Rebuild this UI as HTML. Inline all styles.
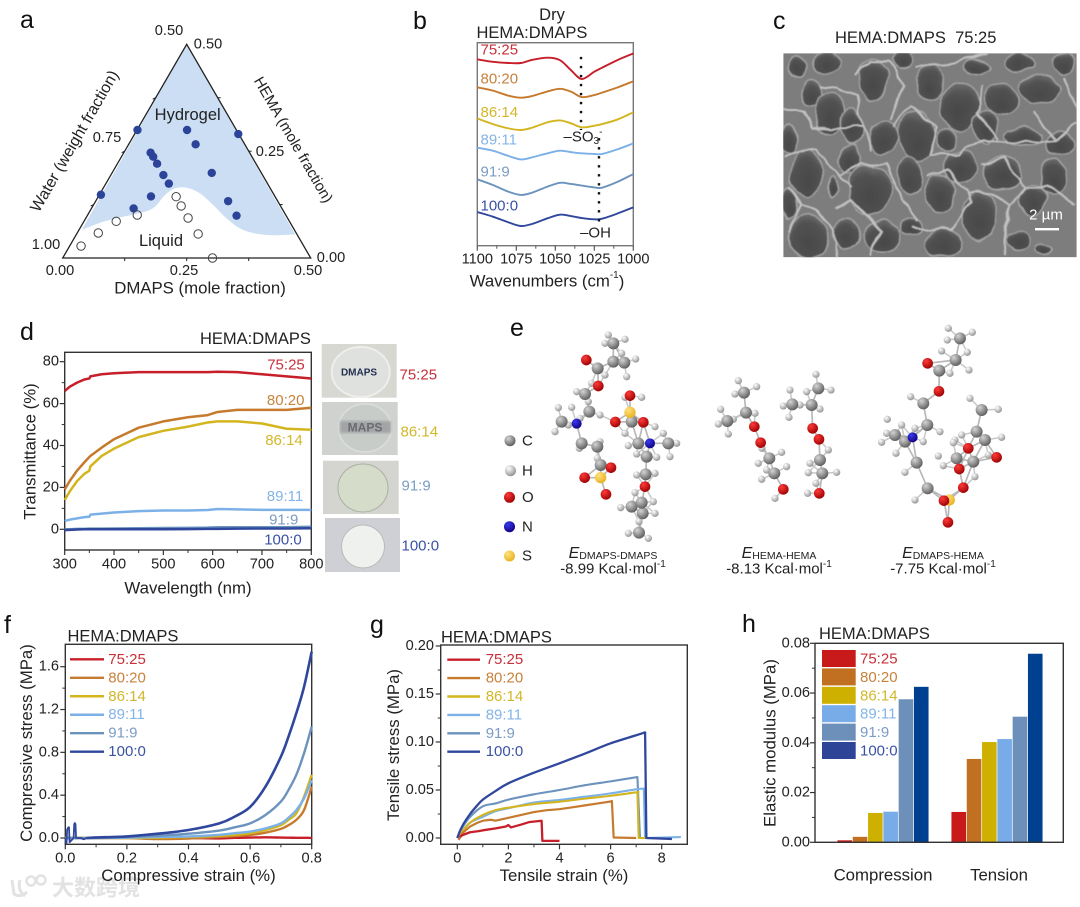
<!DOCTYPE html>
<html lang="en">
<head>
<meta charset="utf-8">
<title>HEMA:DMAPS hydrogel characterization figure</title>
<style>
html,body{margin:0;padding:0;background:#fff;width:1080px;height:907px;overflow:hidden}
svg{display:block;filter:blur(.35px)}
text{font-family:"Liberation Sans","Noto Sans CJK SC",sans-serif;fill:#222;dominant-baseline:central}
.letter{font-size:25px;fill:#111}
.title{font-size:16.5px}
.tick{font-size:14.6px}
.big{font-size:16.8px}
.lab{font-size:15px}
.wm{font-family:"Liberation Sans","Noto Sans CJK SC",sans-serif;font-size:22px;font-weight:bold}
</style>
</head>
<body>
<svg id="fig" xmlns="http://www.w3.org/2000/svg" width="1080" height="907" viewBox="0 0 1080 907">
<defs>
<radialGradient id="gC" cx="35%" cy="30%" r="75%"><stop offset="0" stop-color="#d4d4d4"/><stop offset="1" stop-color="#5a5a5a"/></radialGradient>
<radialGradient id="gH" cx="35%" cy="30%" r="75%"><stop offset="0" stop-color="#ffffff"/><stop offset="1" stop-color="#8f8f8f"/></radialGradient>
<radialGradient id="gO" cx="35%" cy="30%" r="75%"><stop offset="0" stop-color="#ff3a3a"/><stop offset="1" stop-color="#9c0000"/></radialGradient>
<radialGradient id="gN" cx="35%" cy="30%" r="75%"><stop offset="0" stop-color="#3a3af0"/><stop offset="1" stop-color="#100080"/></radialGradient>
<radialGradient id="gS" cx="35%" cy="30%" r="75%"><stop offset="0" stop-color="#ffe27a"/><stop offset="1" stop-color="#e8b020"/></radialGradient>
<radialGradient id="pore" cx="50%" cy="65%" r="70%"><stop offset="0" stop-color="#484848"/><stop offset=".65" stop-color="#525252"/><stop offset="1" stop-color="#787878"/></radialGradient>
<filter id="organic" x="-5%" y="-5%" width="110%" height="110%"><feTurbulence type="fractalNoise" baseFrequency="0.014" numOctaves="2" seed="7" result="n"/><feDisplacementMap in="SourceGraphic" in2="n" scale="30" xChannelSelector="R" yChannelSelector="G"/><feGaussianBlur stdDeviation="1.8"/></filter>
<filter id="soft"><feGaussianBlur stdDeviation="1.4"/></filter>
<clipPath id="semClip"><rect x="783.3" y="53.3" width="293.4" height="204"/></clipPath>
</defs>

<g id="watermark">
  <path d="M12 880 L14 894 Q20 898 27 892 M20 880 Q17 890 25 896" fill="none" stroke="#e2e2e2" stroke-width="3"/>
  <circle cx="31" cy="881" r="4.5" fill="none" stroke="#e2e2e2" stroke-width="2.5"/>
  <circle cx="41" cy="880" r="4.5" fill="none" stroke="#e2e2e2" stroke-width="2.5"/>
  <text class="wm" style="fill:#e2e2e2" x="52" y="888">大数跨境</text>
</g>

<text class="letter" x="20" y="20">a</text>
<text class="letter" x="413" y="21">b</text>
<text class="letter" x="773" y="21">c</text>
<text class="letter" x="20" y="332">d</text>
<text class="letter" x="510" y="328">e</text>
<text class="letter" x="4" y="625">f</text>
<text class="letter" x="370" y="625">g</text>
<text class="letter" x="742" y="624">h</text>

<!-- Panel a -->
<g id="panelA">
  <text class="tick" x="169" y="31" text-anchor="middle">0.50</text>
  <text class="tick" x="208" y="44.5" text-anchor="middle">0.50</text>
  <text class="tick" x="107" y="138" text-anchor="middle">0.75</text>
  <text class="tick" x="270" y="152" text-anchor="middle">0.25</text>
  <text class="tick" x="46" y="245" text-anchor="middle">1.00</text>
  <text class="tick" x="331" y="258" text-anchor="middle">0.00</text>
  <text class="tick" x="60" y="271" text-anchor="middle">0.00</text>
  <text class="tick" x="184" y="271" text-anchor="middle">0.25</text>
  <text class="tick" x="308" y="271" text-anchor="middle">0.50</text>
  <text class="big" x="200" y="288" text-anchor="middle">DMAPS (mole fraction)</text>
  <text transform="translate(75 141.5) rotate(-60)" text-anchor="middle" style="font-size:16px">Water (weight fraction)</text>
  <text transform="translate(293 140) rotate(60)" text-anchor="middle" style="font-size:15px">HEMA (mole fraction)</text>
</g>

<!-- Panel b -->
<g id="panelB">
  <text class="title" x="552" y="15" text-anchor="middle">Dry</text>
  <text class="title" x="476.5" y="33">HEMA:DMAPS</text>
  <text class="big" x="547" y="281" text-anchor="middle">Wavenumbers (cm<tspan font-size="10" dy="-6">-1</tspan><tspan dy="6">)</tspan></text>
  <text class="lab" x="583" y="137" text-anchor="middle">–SO<tspan font-size="10" dy="4">3</tspan><tspan font-size="10" dy="-9">-</tspan></text>
  <text class="lab" x="595.5" y="233" text-anchor="middle">–OH</text>
</g>

<!-- Panel c -->
<text class="title" x="835" y="38" style="white-space:pre">HEMA:DMAPS  75:25</text>
<g id="sem" clip-path="url(#semClip)">
  <rect x="783.3" y="53.3" width="293.4" height="204" fill="#7d7d7d"/>
  <g id="semPores" transform="translate(770 30) scale(.3333)" filter="url(#organic)"></g>
</g>
<text x="1046" y="215" text-anchor="middle" style="font-size:15px;fill:#fff">2 µm</text>
<rect x="1035" y="228" width="24" height="2.4" fill="#fff"/>

<!-- Panel d -->
<g id="panelD">
  <text class="title" x="200" y="339">HEMA:DMAPS</text>
  <text class="big" transform="translate(30 451.5) rotate(-90)" text-anchor="middle">Transmittance (%)</text>
  <text class="big" x="188" y="588" text-anchor="middle">Wavelength (nm)</text>
</g>
<g id="photos">
  <rect x="321.7" y="344" width="75" height="53.7" fill="#d8d8d2"/>
  <ellipse cx="360.7" cy="372" rx="29" ry="25" fill="#dfe1df" stroke="#eeeeec" stroke-width="2"/>
  <text x="359" y="373" text-anchor="middle" style="font-size:10px;font-weight:bold;fill:#22304e">DMAPS</text>
  <rect x="322" y="402" width="75.7" height="53" fill="#d0d2cf"/>
  <ellipse cx="365" cy="428" rx="26.5" ry="24" fill="#c8ccc9" stroke="#dcdedc" stroke-width="1.5"/>
  <rect x="340" y="421" width="51" height="12" fill="#a2a4a6" filter="url(#soft)"/>
  <text x="365" y="427.5" text-anchor="middle" style="font-size:12px;font-weight:bold;fill:#6a6c70">MAPS</text>
  <rect x="323" y="460.7" width="75.7" height="53.3" fill="#d4d4d0"/>
  <ellipse cx="363" cy="488" rx="25" ry="24" fill="#d6dcca" stroke="#aab0a4" stroke-width="1"/>
  <rect x="325" y="518" width="75" height="54" fill="#cfd0d6"/>
  <circle cx="363" cy="546.5" r="21.5" fill="#eff1ef" stroke="#b8bab8" stroke-width="1"/>
  <text class="lab" x="399.5" y="375" style="fill:#c8303a">75:25</text>
  <text class="lab" x="400.5" y="432" style="fill:#d3b72a">86:14</text>
  <text class="lab" x="401.5" y="486" style="fill:#7b9cc4">91:9</text>
  <text class="lab" x="401.5" y="546" style="fill:#3a52a4">100:0</text>
</g>

<!-- Panel e -->
<g id="molecules" transform="translate(490 320) scale(.3333)"></g>
<g id="atomLegend">
  <circle cx="510" cy="440.7" r="5.5" fill="url(#gC)"/>
  <text class="lab" x="522" y="441">C</text>
  <circle cx="510.5" cy="470.7" r="5.5" fill="url(#gH)"/>
  <text class="lab" x="522" y="471">H</text>
  <circle cx="509.5" cy="497.3" r="5.5" fill="url(#gO)"/>
  <text class="lab" x="522" y="497.5">O</text>
  <circle cx="509.5" cy="526.7" r="5.5" fill="url(#gN)"/>
  <text class="lab" x="522" y="527">N</text>
  <circle cx="509.5" cy="556" r="5.5" fill="url(#gS)"/>
  <text class="lab" x="522" y="556">S</text>
  <text x="613" y="553" text-anchor="middle" style="font-size:16px"><tspan font-style="italic">E</tspan><tspan font-size="10.5" dy="3">DMAPS-DMAPS</tspan></text>
  <text class="lab" x="613" y="569" text-anchor="middle">-8.99 Kcal·mol<tspan font-size="10" dy="-5">-1</tspan></text>
  <text x="779" y="553" text-anchor="middle" style="font-size:16px"><tspan font-style="italic">E</tspan><tspan font-size="10.5" dy="3">HEMA-HEMA</tspan></text>
  <text class="lab" x="779" y="569" text-anchor="middle">-8.13 Kcal·mol<tspan font-size="10" dy="-5">-1</tspan></text>
  <text x="943" y="553" text-anchor="middle" style="font-size:16px"><tspan font-style="italic">E</tspan><tspan font-size="10.5" dy="3">DMAPS-HEMA</tspan></text>
  <text class="lab" x="943" y="569" text-anchor="middle">-7.75 Kcal·mol<tspan font-size="10" dy="-5">-1</tspan></text>
</g>

<!-- Panel f -->
<g id="panelF">
  <text class="title" x="67.5" y="636.5">HEMA:DMAPS</text>
  <text class="big" transform="translate(26.5 743) rotate(-90)" text-anchor="middle">Compressive stress (MPa)</text>
  <text class="big" x="188.5" y="875.5" text-anchor="middle">Compressive strain (%)</text>
</g>

<!-- Panel g -->
<g id="panelG">
  <text class="title" x="441" y="637.5">HEMA:DMAPS</text>
  <text class="big" transform="translate(393.5 745) rotate(-90)" text-anchor="middle">Tensile stress (MPa)</text>
  <text class="big" x="564" y="875.5" text-anchor="middle">Tensile strain (%)</text>
</g>

<!-- Panel h -->
<g id="panelH">
  <text class="title" x="819" y="634">HEMA:DMAPS</text>
  <text class="big" transform="translate(770 743) rotate(-90)" text-anchor="middle">Elastic modulus (MPa)</text>
</g>
</svg>

<script>
// ---------- shared data ----------
const ratioLabels = ['75:25', '80:20', '86:14', '89:11', '91:9', '100:0'];
const lineColors = ['#c71f2a', '#c67a2e', '#d3b51f', '#7cb1e8', '#6b93be', '#2f479c'];
const textColors = ['#c8303a', '#c8823c', '#d3b72a', '#84b4e8', '#7b9cc4', '#3a52a4'];

// ---------- panel a: ternary ----------
const hydrogelDmaps = [.001, .101, .209, .135, .054, .064, .080, .106, .201, .127, .003, .106, .267, .085, .301];
const hydrogelHema = [.2995, .2995, .290, .266, .2464, .237, .2206, .194, .199, .174, .148, .144, .133, .116, .099];
const liquidDmaps = [.023, .0425, .065, .100, .157, .178, .206, .245, .302];
const liquidHema = [.028, .0585, .0858, .1006, .1434, .1217, .0936, .0562, 0];
const boundaryDmaps = [.441, .3845, .3315, .284, .2415, .201, .168, .145, .1325, .126, .109, .0738, .0395, .0056];
const boundaryHema = [.0554, .0538, .0655, .0928, .124, .1513, .1645, .163, .1474, .12, .107, .0966, .085, .0655];
const ternaryTicks = [0.125, 0.25, 0.375];

// ---------- panel b: FTIR ----------
const wavenumbers = [1100, 1090, 1080, 1072, 1065, 1055, 1047, 1040, 1033, 1025, 1020, 1010, 1000];
const ftir7525 = [91.8, 90.6, 90, 90, 91.5, 92.6, 91.4, 86.5, 82.1, 85.7, 87.7, 91.5, 94.7];
const ftir8020 = [78, 76.4, 73.9, 72.9, 73.7, 76, 77.3, 75.9, 73.2, 74.2, 75.4, 78, 81];
const ftir8614 = [62.7, 59.9, 57.8, 57, 58.1, 60.8, 61.7, 60.3, 58.3, 59.1, 59.9, 62.2, 65.7];
const ftir8911 = [48.3, 46.8, 44.2, 42.5, 43.5, 45.5, 46.8, 46.1, 45.5, 45.2, 45.2, 47.5, 50.4];
const ftir919 = [32.7, 29.9, 26.6, 25, 26.1, 29.1, 31, 30.4, 29.6, 28.7, 28.6, 31.5, 35.3];
const ftir1000 = [16.6, 14.3, 11.5, 9.7, 10.7, 13.5, 15.3, 14.6, 13.6, 13, 13.3, 15.9, 18.9];
const ftirXTicks = [1100, 1075, 1050, 1025, 1000];
const ftirXMinor = [1087.5, 1062.5, 1037.5, 1012.5];
const so3Wavenumber = 1033.5;
const ohWavenumber = 1022;

// ---------- panel d: transmittance ----------
const wavelengths = [300, 310, 325, 340, 350, 352, 375, 400, 450, 500, 550, 590, 610, 650, 700, 750, 800];
const trans7525 = [66, 68, 70, 71.5, 72, 73, 74, 74.5, 75, 75, 75, 75, 75.2, 75, 74, 73, 72];
const trans8020 = [19, 23, 28, 32, 34.5, 35, 39, 43, 48.5, 51.5, 53.5, 54.5, 56, 57, 57, 57, 58];
const trans8614 = [14, 18, 23, 26.5, 28, 30, 35, 38.5, 44, 47, 49, 51, 51.5, 51.5, 50.5, 48, 47.5];
const trans8911 = [4, 4.6, 5.2, 5.8, 6, 7, 7.5, 8, 8.7, 9, 9, 9.2, 9.7, 9.5, 9.3, 9.3, 9.3];
const trans919 = [0, 0, .2, .2, .3, .3, .3, .4, .5, .6, .7, .8, 1, 1, 1, 1, 1.2];
const trans1000 = [-.4, -.3, -.1, 0, 0, 0, 0, 0, 0, 0, .1, .2, .2, .3, .4, .4, .5];
const transXTicks = [300, 400, 500, 600, 700, 800];
const transXMinor = [350, 450, 550, 650, 750];
const transYTicks = [0, 20, 40, 60, 80];
const transYMinor = [10, 30, 50, 70];

// ---------- panel f: compression ----------
const compStrain = [.1, .2, .3, .4, .5, .55, .6, .65, .7, .725, .75, .775, .8];
const comp7525 = [0, .001, .002, 0, -.004, .002, .004, .006, .004, .003, .002, .002, .001];
const comp8020 = [0, 0, -.01, -.005, .01, .018, .028, .05, .085, .12, .17, .26, .48];
const comp8614 = [0, 0, .003, .01, .02, .03, .045, .075, .12, .17, .23, .385, .59];
const comp8911 = [0, .003, .01, .015, .03, .045, .06, .09, .137, .19, .26, .37, .54];
const comp919 = [0, .01, .02, .04, .07, .1, .137, .215, .34, .45, .59, .79, 1.04];
const comp1000 = [.005, .015, .04, .075, .137, .2, .29, .48, .76, .95, 1.165, 1.41, 1.74];
const spikeStrain = [0, .004, .006, .01, .012, .014, .027, .029, .031, .033, .035, .05, .06, .07];
const spikeStress = [0, -.05, .08, .1, .1, -.04, 0, .13, .14, .13, 0, 0, -.012, 0];
const compXTicks = [0, .2, .4, .6, .8];
const compXMinor = [.1, .3, .5, .7];
const compYTicks = [0, .4, .8, 1.2, 1.6];
const compYMinor = [.2, .6, 1, 1.4];

// ---------- panel g: tension ----------
const tensStrain7525 = [.1, .2, .5, .8, 1, 1.5, 1.9, 2, 2.1, 2.5, 2.8, 3.3, 3.33, 4];
const tensStress7525 = [.001, .003, .006, .007, .008, .01, .012, .0135, .011, .014, .0165, .018, -.003, -.003];
const tensStrain8020 = [.05, .2, .5, .8, 1, 1.3, 1.5, 2, 2.5, 3, 3.5, 4, 4.5, 5, 5.5, 6, 6.05, 6.12, 7];
const tensStress8020 = [-.002, .005, .012, .016, .018, .019, .018, .021, .024, .027, .029, .03, .032, .034, .036, .038, .0385, .0005, 0];
const tensStrain8614 = [0, .2, .5, 1, 1.5, 2, 3, 4, 5, 6, 7, 7.05, 7.1, 7.4];
const tensStress8614 = [0, .007, .016, .024, .029, .0316, .0354, .0378, .041, .044, .0476, .0478, 0, 0];
const tensStrain8911 = [0, .2, .5, 1, 1.5, 2, 3, 4, 5, 6, 7, 7.3, 7.35, 8.75];
const tensStress8911 = [0, .007, .016, .022, .028, .031, .037, .0396, .043, .0465, .0507, .0515, 0, .001];
const tensStrain919 = [0, .2, .5, 1, 1.5, 2, 3, 4, 5, 6, 7.05, 7.15, 7.6];
const tensStress919 = [0, .011, .022, .033, .036, .04, .0455, .05, .055, .059, .0635, 0, 0];
const tensStrain1000 = [0, .1, .25, .5, .75, 1, 1.5, 2, 3, 4, 5, 6, 7, 7.35, 7.4, 8.4];
const tensStress1000 = [0, .007, .015, .025, .033, .04, .049, .057, .068, .0778, .088, .0986, .107, .11, 0, -.001];
const tensXTicks = [0, 2, 4, 6, 8];
const tensXMinor = [1, 3, 5, 7];
const tensYTicks = [0, .05, .1, .15, .2];
const tensYMinor = [.025, .075, .125, .175];

// ---------- panel h: bars ----------
const modulusCategories = ['Compression', 'Tension'];
const modulusCompression = [.0008, .0022, .0118, .0123, .0575, .0625];
const modulusTension = [.0122, .0335, .0403, .0415, .0505, .0758];
const modulusYTicks = [0, .02, .04, .06, .08];
const modulusYMinor = [.01, .03, .05, .07];
const barColors = ['#c81a1a', '#c07020', '#ceb000', '#78ace8', '#6c90ba', '#004090'];

// ---------- helpers ----------
const NS = 'http://www.w3.org/2000/svg';
function make(tag, attrs, parent) {
  const el = document.createElementNS(NS, tag);
  for (const k in attrs) el.setAttribute(k, attrs[k]);
  parent.appendChild(el);
  return el;
}
function linear(d0, d1, r0, r1) {
  return v => r0 + (v - d0) / (d1 - d0) * (r1 - r0);
}
function polyPath(pts) {
  return 'M' + pts.map(p => p[0].toFixed(2) + ' ' + p[1].toFixed(2)).join('L');
}
function smoothPath(pts) {
  let d = 'M' + pts[0][0].toFixed(2) + ' ' + pts[0][1].toFixed(2);
  for (let i = 0; i < pts.length - 1; i++) {
    const p0 = pts[Math.max(0, i - 1)], p1 = pts[i], p2 = pts[i + 1], p3 = pts[Math.min(pts.length - 1, i + 2)];
    d += 'C' + (p1[0] + (p2[0] - p0[0]) / 6).toFixed(2) + ' ' + (p1[1] + (p2[1] - p0[1]) / 6).toFixed(2) + ' ' +
      (p2[0] - (p3[0] - p1[0]) / 6).toFixed(2) + ' ' + (p2[1] - (p3[1] - p1[1]) / 6).toFixed(2) + ' ' +
      p2[0].toFixed(2) + ' ' + p2[1].toFixed(2);
  }
  return d;
}
function drawFrame(g, box, color, w) {
  const r = make('rect', { x: box.l, y: box.t, width: box.r - box.l, height: box.b - box.t, fill: 'none', stroke: color, 'stroke-width': w }, g);
  
  
}
function drawXAxis(g, scale, box, ticks, minor, digits, labelY, color) {
  ticks.forEach(v => {
    const t = make('line', { x1: scale(v), x2: scale(v), y1: box.b, y2: box.b + 5, stroke: color, 'stroke-width': 1.2 }, g);
    
    
    const s = make('text', { x: scale(v), y: labelY, 'text-anchor': 'middle', class: 'tick' }, g);
    s.textContent = v.toFixed(digits);
    
    
  });
  minor.forEach(v => {
    const t = make('line', { x1: scale(v), x2: scale(v), y1: box.b, y2: box.b + 3, stroke: color, 'stroke-width': 1 }, g);
    
    
  });
}
function drawYAxis(g, scale, box, ticks, minor, digits, labelX) {
  ticks.forEach(v => {
    const t = make('line', { x1: box.l - 5, x2: box.l, y1: scale(v), y2: scale(v), stroke: '#333', 'stroke-width': 1.2 }, g);
    
    
    const s = make('text', { x: labelX, y: scale(v), 'text-anchor': 'end', class: 'tick' }, g);
    s.textContent = v.toFixed(digits);
    
    
  });
  minor.forEach(v => {
    const t = make('line', { x1: box.l - 3, x2: box.l, y1: scale(v), y2: scale(v), stroke: '#333', 'stroke-width': 1 }, g);
    
    
  });
}
function drawCurve(g, xs, ys, xScale, yScale, color, width, smooth) {
  const pts = xs.map((x, i) => [xScale(x), yScale(ys[i])]);
  const p = make('path', { d: smooth ? smoothPath(pts) : polyPath(pts), fill: 'none', stroke: color, 'stroke-width': width, 'stroke-linejoin': 'round' }, g);
  
  
  return p;
}
function drawBreakCurve(g, xs, ys, xScale, yScale, color, width) {
  const pts = xs.map((x, i) => [xScale(x), yScale(ys[i])]);
  const n = pts.length;
  const d = smoothPath(pts.slice(0, n - 2)) + 'L' + pts[n - 2][0].toFixed(2) + ' ' + pts[n - 2][1].toFixed(2) + 'L' + pts[n - 1][0].toFixed(2) + ' ' + pts[n - 1][1].toFixed(2);
  const p = make('path', { d: d, fill: 'none', stroke: color, 'stroke-width': width, 'stroke-linejoin': 'round' }, g);
  
  
  return p;
}
function drawLineLegend(g, x1, x2, textX, ys) {
  ratioLabels.forEach((lab, i) => {
    const l = make('line', { x1: x1, x2: x2, y1: ys(i), y2: ys(i), stroke: lineColors[i], 'stroke-width': 2.4 }, g);
    
    
    const t = make('text', { x: textX, y: ys(i), class: 'lab', style: 'fill:' + textColors[i] }, g);
    t.textContent = lab;
    
    
  });
}

// ---------- panel a render ----------
(function () {
  const g = document.getElementById('panelA');
  const L = [62.7, 258], R = [310.7, 258], T = [186.7, 44.3];
  const px = (D, H) => L[0] + D / .5 * (R[0] - L[0]) + H / .5 * (T[0] - L[0]);
  const py = (D, H) => L[1] + H / .5 * (T[1] - L[1]);
  const bd = boundaryDmaps.map((d, i) => [px(d, boundaryHema[i]), py(d, boundaryHema[i])]);
  const region = make('path', { d: 'M' + T[0] + ' ' + T[1] + 'L' + bd[0][0] + ' ' + bd[0][1] + smoothPath(bd).replace(/^M[^C]*/, '') + 'Z', fill: '#cbdef4' }, g);
  
  
  const tri = make('path', { d: 'M' + L + 'L' + R + 'L' + T + 'Z', fill: 'none', stroke: '#222', 'stroke-width': 1.3 }, g);
  
  
  ternaryTicks.forEach(f => {
    const a = make('line', { x1: px(f, 0), x2: px(f, 0), y1: 258, y2: 261, stroke: '#222', 'stroke-width': 1 }, g);
    
    
    const b = make('line', { x1: px(.5 - f, f), x2: px(.5 - f, f) + 3, y1: py(.5 - f, f), y2: py(.5 - f, f), stroke: '#222', 'stroke-width': 1 }, g);
    
    
    const c = make('line', { x1: px(0, f), x2: px(0, f) - 3, y1: py(0, f), y2: py(0, f) + 1.5, stroke: '#222', 'stroke-width': 1 }, g);
    
    
  });
  hydrogelDmaps.forEach((d, i) => {
    const c = make('circle', { cx: px(d, hydrogelHema[i]), cy: py(d, hydrogelHema[i]), r: 4.2, fill: '#2b4399' }, g);
    
    
  });
  liquidDmaps.forEach((d, i) => {
    const c = make('circle', { cx: px(d, liquidHema[i]), cy: py(d, liquidHema[i]), r: 4.2, fill: 'none', stroke: '#444', 'stroke-width': 1 }, g);
    
    
  });
  const h = make('text', { x: 187.7, y: 115, 'text-anchor': 'middle', style: 'font-size:16.5px' }, g);
  h.textContent = 'Hydrogel';
  
  
  const q = make('text', { x: 161, y: 241, 'text-anchor': 'middle', style: 'font-size:16.5px' }, g);
  q.textContent = 'Liquid';
  
  
})();

// ---------- panel b render ----------
(function () {
  const g = document.getElementById('panelB');
  const box = { l: 477.3, r: 633.3, t: 42.7, b: 245.7 };
  const x = linear(1100, 1000, box.l, box.r);
  const y = linear(0, 100, box.b, box.t);
  drawFrame(g, box, '#777', 1.4);
  drawXAxis(g, x, box, ftirXTicks, ftirXMinor, 0, 259.5, '#555');
  [ftir7525, ftir8020, ftir8614, ftir8911, ftir919, ftir1000].forEach((s, i) => {
    drawCurve(g, wavenumbers, s, x, y, lineColors[i], 1.9, true);
  });
  const labelValues = [96.4, 82, 65.7, 52.1, 36.4, 19.5];
  ratioLabels.forEach((lab, i) => {
    const t = make('text', { x: 480.5, y: y(labelValues[i]), class: 'lab', style: 'fill:' + textColors[i] }, g);
    t.textContent = lab;
    
    
  });
  const d1 = make('line', { x1: x(so3Wavenumber), x2: x(so3Wavenumber), y1: y(93), y2: y(57), stroke: '#111', 'stroke-width': 2.4, 'stroke-dasharray': '2.4 6.6' }, g);
  
  
  const d2 = make('line', { x1: x(ohWavenumber), x2: x(ohWavenumber), y1: y(53), y2: y(8.7), stroke: '#111', 'stroke-width': 2.4, 'stroke-dasharray': '2.4 6.6' }, g);
  
  
})();

// ---------- panel c render (SEM texture) ----------
(function () {
  const g = document.getElementById('semPores');
  const pores = [
    '310 150 46 64', '125 190 34 40', '170 100 46 32', '85 110 26 34', '400 90 30 24', '480 160 42 54', '570 230 58 72',
    '695 210 50 44', '810 180 60 44', '750 100 44 26', '620 110 40 24', '180 250 46 66', '340 320 46 50', '245 290 34 54',
    '440 320 54 74', '530 330 30 34', '645 290 34 50', '760 320 54 28', '870 340 44 34', '110 430 50 66', '240 390 34 44',
    '420 440 34 54', '570 410 54 44', '700 430 60 54', '510 490 50 54', '300 480 66 76', '850 440 40 54', '790 510 44 48',
    '630 560 54 74', '115 620 56 66', '340 620 56 50', '520 640 56 44', '745 630 34 34', '820 660 24 18', '190 470 12 32',
    '230 610 44 44', '60 330 24 44', '880 100 28 32', '430 590 34 26', '60 520 20 44'
  ];
  pores.forEach(s => {
    const v = s.split(' ').map(Number);
    const e = make('ellipse', { cx: v[0], cy: v[1], rx: v[2], ry: v[3], fill: 'url(#pore)', stroke: '#a6a6a6', 'stroke-width': 4 }, g);
    
    
  });
  const webs = [
    'M250 140 L300 95 L360 95 L400 160 L365 270', 'M150 165 L200 170 L260 200 L280 290 L300 360',
    'M40 240 L100 240 L130 290 L180 300 L280 290', 'M370 290 L420 230 L500 290 L480 370 L560 375 L640 330 L720 340 L860 330',
    'M640 170 L620 250 L690 330', 'M440 110 L540 100 L650 70', 'M40 380 L140 360 L210 440 L240 480',
    'M210 440 L280 400 L350 400 L380 480 L440 570', 'M470 440 L530 420 L590 480 L600 520 L540 600 L430 590',
    'M640 400 L700 380 L770 470 L720 520 L660 490 L590 490', 'M200 540 L240 510 L290 560 L330 600 L300 680',
    'M60 470 L90 520 L60 600', 'M90 520 L140 540 L190 600 L200 680', 'M720 520 L700 680',
    'M770 470 L830 470 L920 520', 'M860 330 L920 280', 'M790 250 L860 330', 'M880 140 L920 240'
  ];
  webs.forEach(d => {
    const w = make('path', { d: d, fill: 'none', stroke: '#c2c2c2', 'stroke-width': 6, 'stroke-linejoin': 'round' }, g);
    
    
  });
})();

// ---------- panel d render ----------
(function () {
  const g = document.getElementById('panelD');
  const box = { l: 64.7, r: 311.3, t: 352.3, b: 550 };
  const x = linear(300, 800, box.l, box.r);
  const y = linear(0, 80, 529.3, 361.7);
  drawFrame(g, box, '#333', 1.4);
  drawXAxis(g, x, box, transXTicks, transXMinor, 0, 564.5, '#333');
  drawYAxis(g, y, box, transYTicks, transYMinor, 0, 59);
  [trans919, trans1000, trans8911, trans8614, trans8020, trans7525].forEach((s, i) => {
    const order = [4, 5, 3, 2, 1, 0][i];
    drawCurve(g, wavelengths, s, x, y, lineColors[order], 2.5, false);
  });
  const labelValues = [78.4, 61.4, 42.3, 15.6, 4.5, -5];
  const labelXs = [286, 285.7, 284, 285, 283.7, 283];
  ratioLabels.forEach((lab, i) => {
    const t = make('text', { x: labelXs[i], y: y(labelValues[i]), 'text-anchor': 'middle', class: 'lab', style: 'fill:' + textColors[i] }, g);
    t.textContent = lab;
    
    
  });
})();

// ---------- panel e render ----------
(function () {
  const g = document.getElementById('molecules');
  const molecules = [
    {
      reach: 72,
      O: [[289,120],[325,198],[420,227],[376,306],[460,307],[363,443],[284,473],[348,523],[465,500]],
      C: [[323,145],[370,125],[370,70],[403,128],[285,222],[298,275],[425,305],[275,370],[322,380],[332,435],[470,410],[467,463],[445,370],[215,305],[458,580],[425,560],[447,638],[455,548],[535,370]],
      N: [[260,311],[480,370]],
      S: [[420,277],[332,473]],
      H: [[355,45],[405,58],[345,70],[437,117],[395,100],[410,170],[345,165],[260,215],[305,190],[205,263],[245,262],[195,335],[235,315],[295,245],[330,285],[270,295],[268,385],[330,365],[322,415],[405,232],[455,232],[405,340],[495,320],[415,377],[440,402],[500,412],[560,370],[520,340],[540,410],[440,465],[495,460],[392,563],[435,518],[490,545],[495,580],[415,640],[475,655],[447,605]]
    },
    {
      reach: 72,
      O: [[793,320],[812,368],[880,508]],
      C: [[762,218],[768,278],[712,303],[838,415],[853,460]],
      H: [[745,182],[800,200],[735,222],[692,268],[715,342],[685,312],[730,298],[795,280],[816,385],[875,397],[805,430],[830,450],[890,440],[855,535],[815,478]]
    },
    {
      reach: 72,
      O: [[968,325],[987,358],[988,520]],
      C: [[985,205],[965,255],[907,253],[990,420],[997,460]],
      H: [[978,163],[1023,210],[950,215],[900,210],[880,258],[930,255],[897,292],[990,267],[960,430],[1015,390],[1040,457],[955,458],[978,490],[953,520]]
    },
    {
      reach: 85,
      O: [[1313,130],[1347,214],[1435,385],[1408,447],[1520,412],[1420,503],[1362,542],[1374,607]],
      C: [[1348,152],[1397,120],[1410,55],[1300,250],[1312,315],[1215,345],[1245,365],[1280,428],[1313,505],[1400,415],[1450,425],[1460,335],[1475,270],[1485,360]],
      N: [[1268,352]],
      S: [[1378,540]],
      H: [[1375,25],[1447,37],[1372,60],[1355,93],[1432,97],[1437,150],[1380,160],[1262,230],[1350,335],[1275,325],[1192,298],[1235,315],[1175,367],[1218,400],[1190,340],[1300,365],[1245,457],[1345,408],[1360,437],[1275,540],[1395,360],[1415,345],[1440,235],[1525,268],[1535,352],[1495,405],[1455,470],[1390,368]]
    }
  ];
  const radius = { C: 18, H: 11, O: 16, N: 15, S: 17 };
  molecules.forEach(m => {
    const heavy = [].concat(m.O || [], m.C || [], m.N || [], m.S || []);
    heavy.forEach((a, i) => {
      heavy.slice(i + 1).forEach(b => {
        if (Math.hypot(a[0] - b[0], a[1] - b[1]) < m.reach) {
          const l = make('line', { x1: a[0], y1: a[1], x2: b[0], y2: b[1], stroke: '#b8b8b8', 'stroke-width': 5 }, g);
          
          
        }
      });
      m.H.forEach(b => {
        if (Math.hypot(a[0] - b[0], a[1] - b[1]) < 52) {
          const l = make('line', { x1: a[0], y1: a[1], x2: b[0], y2: b[1], stroke: '#c8c8c8', 'stroke-width': 4.5 }, g);
          
          
        }
      });
    });
    ['H', 'C', 'S', 'N', 'O'].forEach(k => {
      (m[k] || []).forEach(a => {
        const c = make('circle', { cx: a[0], cy: a[1], r: radius[k], fill: 'url(#g' + k + ')' }, g);
        
        
      });
    });
  });
})();

// ---------- panel f render ----------
(function () {
  const g = document.getElementById('panelF');
  const box = { l: 65.3, r: 311.7, t: 644.3, b: 844.3 };
  const x = linear(0, .8, box.l, box.r);
  const y = linear(0, 1.6, 838, 666.7);
  drawFrame(g, box, '#333', 1.4);
  drawXAxis(g, x, box, compXTicks, compXMinor, 1, 858.5, '#333');
  drawYAxis(g, y, box, compYTicks, compYMinor, 1, 59);
  [comp7525, comp8020, comp8614, comp8911, comp919].forEach((s, i) => {
    drawCurve(g, [0].concat(compStrain), [0].concat(s), x, y, lineColors[i], 2.4, true);
  });
  drawCurve(g, spikeStrain, spikeStress, x, y, lineColors[5], 1.8, false);
  const last = spikeStrain.length - 1;
  drawCurve(g, [spikeStrain[last]].concat(compStrain), [spikeStress[last]].concat(comp1000), x, y, lineColors[5], 2.6, true);
  const legendY = linear(0, 5, 659.3, 751.7);
  drawLineLegend(g, 70, 104, 108.3, legendY);
})();

// ---------- panel g render ----------
(function () {
  const g = document.getElementById('panelG');
  const box = { l: 440.7, r: 687.3, t: 645, b: 844.3 };
  const x = linear(0, 8, 457.3, 661.7);
  const y = linear(0, .2, 838, 646);
  drawFrame(g, box, '#333', 1.4);
  drawXAxis(g, x, box, tensXTicks, tensXMinor, 0, 858.5, '#333');
  drawYAxis(g, y, box, tensYTicks, tensYMinor, 2, 434);
  drawBreakCurve(g, tensStrain919, tensStress919, x, y, lineColors[4], 2.1);
  drawBreakCurve(g, tensStrain8911, tensStress8911, x, y, lineColors[3], 2.1);
  drawBreakCurve(g, tensStrain8614, tensStress8614, x, y, lineColors[2], 2.1);
  drawCurve(g, tensStrain8020, tensStress8020, x, y, lineColors[1], 2.2, false);
  drawCurve(g, tensStrain7525, tensStress7525, x, y, lineColors[0], 2.3, false);
  drawBreakCurve(g, tensStrain1000, tensStress1000, x, y, lineColors[5], 2.3);
  const legendY = linear(0, 5, 659.7, 751.7);
  drawLineLegend(g, 447.3, 480, 485.7, legendY);
})();

// ---------- panel h render ----------
(function () {
  const g = document.getElementById('panelH');
  const box = { l: 815, r: 1063.3, t: 643.3, b: 842.3 };
  const y = linear(0, .08, box.b, box.t);
  const step = 15.3, barW = 14.6;
  const centers = [883, 997];
  [modulusCompression, modulusTension].forEach((vals, c) => {
    vals.forEach((v, i) => {
      const bx = centers[c] + (i - 2.5) * step - barW / 2;
      const r = make('rect', { x: bx, y: y(v), width: barW, height: y(0) - y(v), fill: barColors[i] }, g);
      
      
    });
    const t = make('text', { x: centers[c] + (c ? 2 : 0), y: 875, 'text-anchor': 'middle', class: 'big' }, g);
    t.textContent = modulusCategories[c];
    
    
  });
  drawFrame(g, box, '#333', 1.4);
  drawYAxis(g, y, box, modulusYTicks, modulusYMinor, 2, 810);
  const swatchColors = ['#c81a1a', '#c07020', '#ceb000', '#78ace8', '#6c90ba', '#2e4496'];
  const legendRow = linear(0, 5, 650, 742);
  ratioLabels.forEach((lab, i) => {
    const r = make('rect', { x: 822, y: legendRow(i), width: 33.7, height: 17, fill: swatchColors[i] }, g);
    
    
    const t = make('text', { x: 860, y: legendRow(i) + 9, class: 'lab', style: 'fill:' + textColors[i] }, g);
    t.textContent = lab;
    
    
  });
})();
</script>
</body>
</html>
